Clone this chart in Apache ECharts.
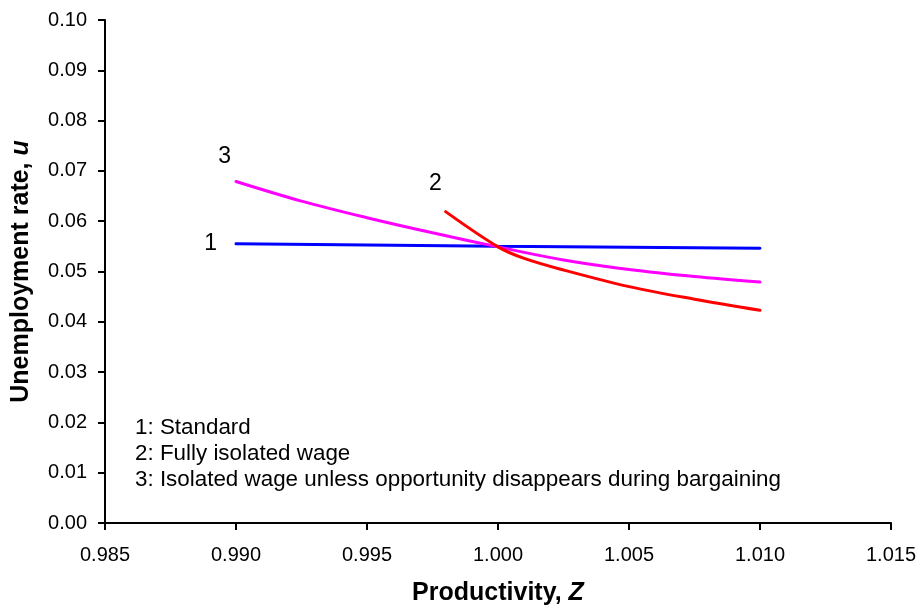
<!DOCTYPE html>
<html>
<head>
<meta charset="utf-8">
<script src="https://cdn.jsdelivr.net/npm/echarts@6/dist/echarts.min.js"></script>
<style>
  html, body { margin: 0; padding: 0; background: #fff; }
  #chart { width: 923px; height: 612px; }
</style>
</head>
<body>
<div id="chart"></div>
<script>
// productivity Z values and unemployment u
const standardZ = [0.990, 1.000, 1.010];
const standardU = [0.0555, 0.0550, 0.0546];

const isolatedZ = [0.998, 1.000, 1.001, 1.0025, 1.005, 1.0075, 1.010];
const isolatedU = [0.0619, 0.0549, 0.0526, 0.0503, 0.0470, 0.0445, 0.0423];

const partialZ = [0.990, 0.9925, 0.995, 0.9975, 1.000, 1.0025, 1.005, 1.0075, 1.010];
const partialU = [0.0679, 0.0640, 0.0607, 0.0577, 0.0549, 0.0523, 0.0504, 0.0490, 0.0479];

// curve numbers placed next to the curve starts
const tagNames = ['1', '2', '3'];
const tagZ = [0.98903, 0.99761, 0.98957];
const tagU = [0.05547, 0.0675, 0.07286];

const noteLines = [
  '1: Standard',
  '2: Fully isolated wage',
  '3: Isolated wage unless opportunity disappears during bargaining'
];

const font = 'Liberation Sans, Arial, Helvetica, sans-serif';

const pairs = (xs, ys) => xs.map((x, i) => [x, ys[i]]);

const chart = echarts.init(document.getElementById('chart'));

const axisCommon = {
  axisLine: { show: true, onZero: false, lineStyle: { color: '#000', width: 2 } },
  axisTick: { show: true, inside: false, length: 7, lineStyle: { color: '#000', width: 2 } },
  splitLine: { show: false }
};

const titleStyle = {
  fontFamily: font,
  fontSize: 25,
  fontWeight: 'bold',
  color: '#000',
  rich: { i: { fontFamily: font, fontSize: 25, fontWeight: 'bold', fontStyle: 'italic', color: '#000' } }
};

const option = {
  animation: false,
  backgroundColor: '#fff',
  grid: { left: 105, right: 32, top: 20, bottom: 89 },
  xAxis: {
    type: 'value',
    min: 0.985,
    max: 1.015,
    interval: 0.005,
    ...axisCommon,
    axisLabel: {
      margin: 22,
      fontFamily: font,
      fontSize: 20,
      color: '#000',
      formatter: v => v.toFixed(3)
    },
    name: 'Productivity, {i|Z}',
    nameLocation: 'middle',
    nameGap: 58,
    nameTextStyle: titleStyle
  },
  yAxis: {
    type: 'value',
    min: 0,
    max: 0.1,
    interval: 0.01,
    ...axisCommon,
    axisLabel: {
      margin: 18,
      fontFamily: font,
      fontSize: 20,
      color: '#000',
      formatter: v => v.toFixed(2)
    },
    name: 'Unemployment rate, {i|u}',
    nameLocation: 'middle',
    nameRotate: 90,
    nameGap: 71,
    nameTextStyle: titleStyle
  },
  series: [
    {
      name: '1',
      type: 'line',
      data: pairs(standardZ, standardU),
      symbol: 'none',
      lineStyle: { color: '#0000ff', width: 3, cap: 'round' },
      z: 3
    },
    {
      name: '3',
      type: 'line',
      data: pairs(partialZ, partialU),
      smooth: 0.35,
      symbol: 'none',
      lineStyle: { color: '#ff00ff', width: 3, cap: 'round' },
      z: 4
    },
    {
      name: '2',
      type: 'line',
      data: pairs(isolatedZ, isolatedU),
      smooth: 0.35,
      symbol: 'none',
      lineStyle: { color: '#ff0000', width: 3, cap: 'round' },
      z: 5
    },
    {
      name: 'tags',
      type: 'scatter',
      symbolSize: 0,
      itemStyle: { color: '#000', opacity: 1 },
      data: tagNames.map((t, i) => ({ name: t, value: [tagZ[i], tagU[i]] })),
      label: {
        show: true,
        position: 'inside',
        formatter: p => p.name,
        fontFamily: font,
        fontSize: 23,
        color: '#000',
        textBorderWidth: 0
      },
      silent: true
    }
  ],
  graphic: [
    {
      type: 'text',
      left: 135,
      top: 415,
      style: {
        text: noteLines.join('\n'),
        fontFamily: font,
        fontSize: 22.4,
        lineHeight: 26,
        fill: '#000'
      }
    }
  ]
};

chart.setOption(option);
</script>
</body>
</html>
